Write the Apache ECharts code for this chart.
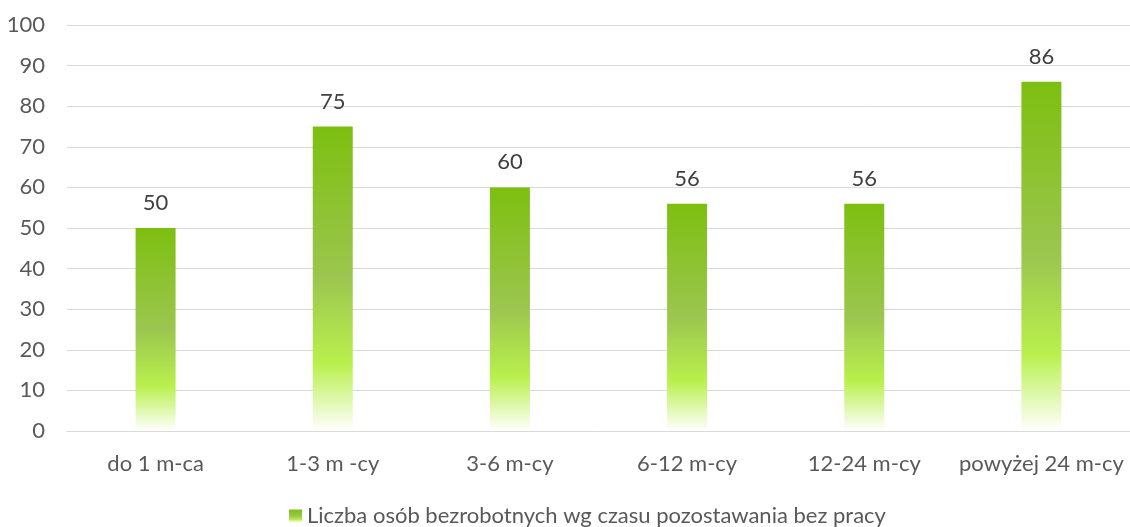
<!DOCTYPE html>
<html><head><meta charset="utf-8">
<script src="https://cdn.jsdelivr.net/npm/echarts@6/dist/echarts.min.js"></script>
<style>html,body{margin:0;padding:0;background:#fff}#c{width:1130px;height:527px}</style>
</head><body><div id="c"></div>
<script>
const categories = ["do 1 m-ca", "1-3 m -cy", "3-6 m-cy", "6-12 m-cy", "12-24 m-cy", "powyżej 24 m-cy"];
const values = [50, 75, 60, 56, 56, 86];
const seriesName = "Liczba osób bezrobotnych wg czasu pozostawania bez pracy";
const yTicks = {min: 0, max: 100, interval: 10};

const grad = new echarts.graphic.LinearGradient(0, 0, 0, 1, [
  {offset: 0, color: '#7dbf10'},
  {offset: 0.5, color: '#9cc64f'},
  {offset: 0.78, color: '#b9f04d'},
  {offset: 1, color: '#ffffff'}
]);
const chart = echarts.init(document.getElementById('c'));
const font = 'Lato, "Open Sans", sans-serif';
chart.setOption({
  animation: false,
  textStyle: {fontFamily: font},
  grid: {left: 67, right: -11, top: 25, bottom: 96, containLabel: false},
  legend: {top: 500, left: 284, itemWidth: 13, itemHeight: 13, icon: 'rect',
    textStyle: {fontSize: 22, color: '#595959', fontFamily: font},
    data: [seriesName]},
  xAxis: {type: 'category', data: categories,
    axisLine: {show: true, lineStyle: {color: '#d9d9d9'}}, axisTick: {show: false},
    axisLabel: {color: '#595959', fontSize: 22, margin: 22, interval: 0}},
  yAxis: {type: 'value', min: yTicks.min, max: yTicks.max, interval: yTicks.interval,
    axisLine: {show: false}, axisTick: {show: false},
    splitLine: {lineStyle: {color: '#d9d9d9', width: 1}},
    axisLabel: {color: '#595959', fontSize: 22, margin: 22}},
  series: [{type: 'bar', name: seriesName, data: values, barWidth: 40,
    itemStyle: {color: grad},
    label: {show: true, position: 'top', distance: 14, color: '#404040', fontSize: 22, fontFamily: font}}]
});
</script></body></html>
